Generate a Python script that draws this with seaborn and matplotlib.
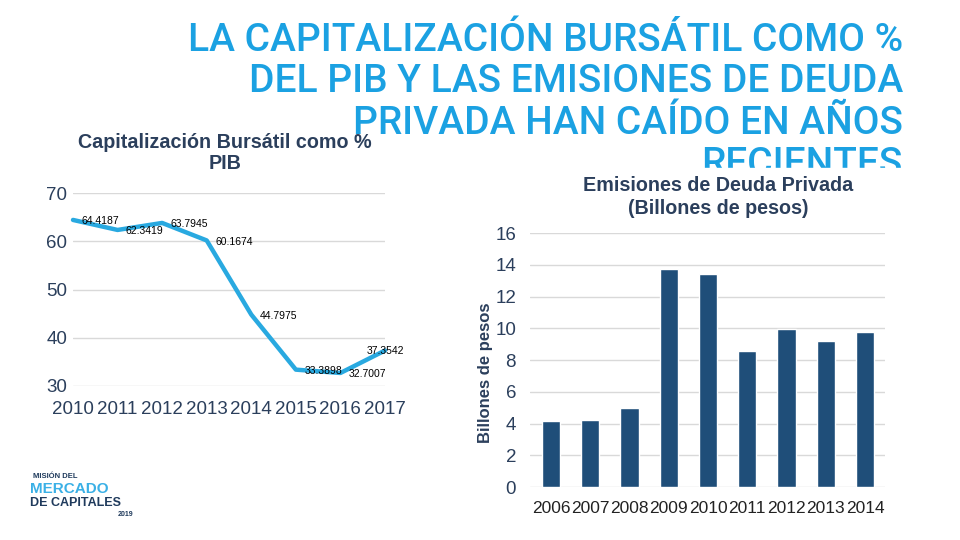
"""Capitalización bursátil como % del PIB y emisiones de deuda privada."""
import seaborn as sns
from matplotlib import pyplot as plt
from matplotlib.patches import Rectangle
import pandas as pd

years_cap = [2010, 2011, 2012, 2013, 2014, 2015, 2016, 2017]
cap_pib = [64.4187, 62.3419, 63.7945, 60.1674, 44.7975, 33.3898, 32.7007, 37.3542]

years_deuda = ['2006', '2007', '2008', '2009', '2010', '2011', '2012', '2013', '2014']
deuda = [4.15, 4.25, 4.95, 13.75, 13.4, 8.55, 9.95, 9.2, 9.75]

df_cap = pd.DataFrame({'year': years_cap, 'cap': cap_pib})
df_deuda = pd.DataFrame({'year': years_deuda, 'deuda': deuda})

sns.set_style('white')
plt.rcParams['font.family'] = ['Liberation Sans', 'DejaVu Sans']

dark = '#2B3F5C'
light_blue = '#1BA1E2'
grid = '#D9D9D9'

fig = plt.figure(figsize=(9.6, 5.4), dpi=100)

# main title (last line partly hidden by the right chart)
fig.text(903 / 960, 1 - 22 / 540,
         'LA CAPITALIZACIÓN BURSÁTIL COMO %\nDEL PIB Y LAS EMISIONES DE DEUDA\n'
         'PRIVADA HAN CAÍDO EN AÑOS\nRECIENTES',
         ha='right', va='top', fontsize=28, color=light_blue, linespacing=1.15,
         family=['Roboto', 'Liberation Sans', 'DejaVu Sans'], fontweight='medium',
         transform=fig.transFigure, zorder=3)
fig.patches.append(Rectangle((560 / 960, 0), 360 / 960, 1 - 168 / 540,
                             transform=fig.transFigure, color='white', zorder=4))

# left chart: line
ax1 = fig.add_axes([73 / 960, 1 - 386 / 540, 312 / 960, 193 / 540])
sns.lineplot(data=df_cap, x='year', y='cap', ax=ax1, color='#29A9E0',
             linewidth=3.2, clip_on=False)
ax1.set_xlim(2010, 2017)
ax1.set_ylim(30, 70)
ax1.set_yticks([30, 40, 50, 60, 70])
ax1.set_xticks(years_cap)
ax1.grid(axis='y', color=grid, linewidth=1)
ax1.set_axisbelow(True)
for s in ax1.spines.values():
    s.set_visible(False)
ax1.tick_params(axis='both', length=0, labelsize=13.5, colors=dark)
ax1.tick_params(axis='y', pad=4)
ax1.tick_params(axis='x', pad=11)
ax1.set_xlabel('')
ax1.set_ylabel('')
for i, (x, y) in enumerate(zip(years_cap, cap_pib)):
    if i == len(years_cap) - 1:
        ax1.annotate(f'{y:.4f}', (x, y), xytext=(0, 0), textcoords='offset points',
                     ha='center', va='center', fontsize=7.5, color='black')
    else:
        ax1.annotate(f'{y:.4f}', (x, y), xytext=(6, -1), textcoords='offset points',
                     ha='left', va='center', fontsize=7.5, color='black')
fig.text(225 / 960, 1 - 153 / 540, 'Capitalización Bursátil como %\nPIB',
         ha='center', va='center', fontsize=14.2, fontweight='bold', color=dark,
         linespacing=1.1, zorder=5)

# right chart: bars
ax2 = fig.add_axes([530 / 960, 1 - 487 / 540, 355 / 960, 254 / 540])
ax2.set_zorder(5)
ax2.patch.set_alpha(0)
sns.barplot(data=df_deuda, x='year', y='deuda', ax=ax2, color='#1F4E79',
            width=0.47, saturation=1)
ax2.set_xlim(-0.535, 8.51)
ax2.set_ylim(0, 16)
ax2.set_yticks(range(0, 17, 2))
ax2.grid(axis='y', color=grid, linewidth=1)
ax2.set_axisbelow(True)
for s in ax2.spines.values():
    s.set_visible(False)
ax2.tick_params(axis='both', length=0, labelsize=13.5, colors=dark)
ax2.tick_params(axis='x', labelsize=12.5, colors='#222222', pad=10)
ax2.tick_params(axis='y', pad=10)
ax2.set_xlabel('')
ax2.set_ylabel('Billones de pesos', fontsize=12, fontweight='bold', color=dark)
ax2.yaxis.set_label_coords(-37 / 355, 0.45)
fig.text(718 / 960, 1 - 197 / 540, 'Emisiones de Deuda Privada\n(Billones de pesos)',
         ha='center', va='center', fontsize=14.2, fontweight='bold', color=dark,
         linespacing=1.25, zorder=6)

# logo text
fig.text(33 / 960, 1 - 477 / 540, 'MISIÓN DEL', fontsize=5.5, fontweight='bold',
         color='#1F3A5C', va='center')
fig.text(30 / 960, 1 - 489 / 540, 'MERCADO', fontsize=11, fontweight='bold',
         color='#3AB0E6', va='center')
fig.text(30 / 960, 1 - 503 / 540, 'DE CAPITALES', fontsize=9, fontweight='bold',
         color='#1F3A5C', va='center')
fig.text(133 / 960, 1 - 514 / 540, '2019', fontsize=5, fontweight='bold',
         color='#1F3A5C', va='center', ha='right')

fig.savefig('out.png', dpi=100)
